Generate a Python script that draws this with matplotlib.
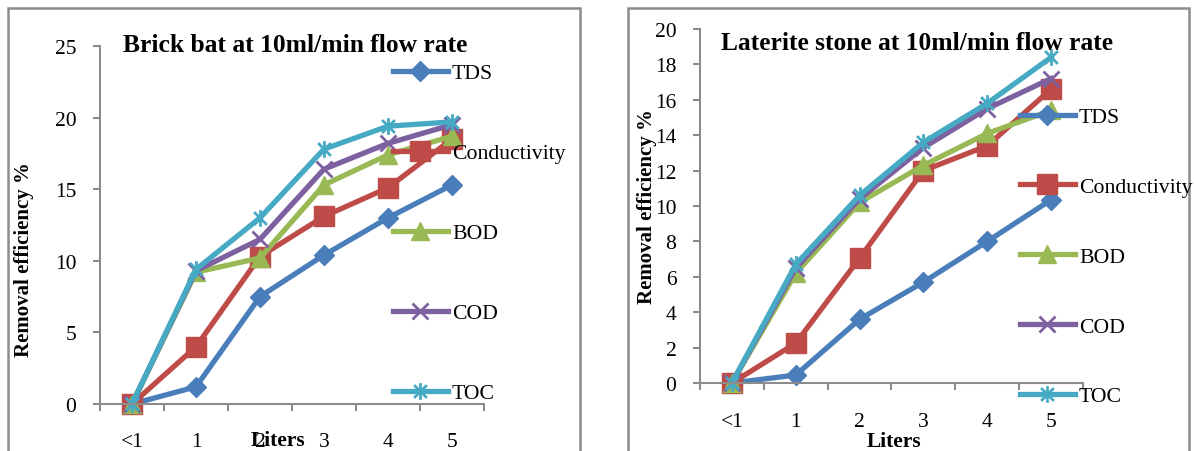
# Removal efficiency of brick bat and laterite stone filters (10 ml/min)
import matplotlib.pyplot as plt
from matplotlib.patches import Rectangle
from matplotlib.path import Path

plt.rcParams['font.family'] = ['Liberation Serif', 'DejaVu Serif']

categories = ['<1', '1', '2', '3', '4', '5']
series_names = ['TDS', 'Conductivity', 'BOD', 'COD', 'TOC']

# Brick bat
brick_tds = [0, 1.2, 7.5, 10.4, 13.0, 15.3]
brick_cond = [0, 4.0, 10.3, 13.1, 15.1, 18.5]
brick_bod = [0, 9.2, 10.2, 15.3, 17.4, 18.7]
brick_cod = [0, 9.3, 11.5, 16.4, 18.2, 19.5]
brick_toc = [0, 9.4, 13.0, 17.8, 19.4, 19.7]

# Laterite stone
lat_tds = [0, 0.45, 3.6, 5.7, 8.0, 10.35]
lat_cond = [0, 2.25, 7.05, 12.0, 13.4, 16.6]
lat_bod = [0, 6.2, 10.2, 12.3, 14.1, 15.4]
lat_cod = [0, 6.5, 10.4, 13.3, 15.5, 17.2]
lat_toc = [0, 6.7, 10.6, 13.6, 15.8, 18.4]

colors = ['#4A7EBB', '#BE4B48', '#98B954', '#7D60A0', '#46AAC5']

# excel style star: x plus vertical bar
star = Path([(-1, -1), (1, 1), (-1, 1), (1, -1), (0, -1.3), (0, 1.3)],
            [Path.MOVETO, Path.LINETO] * 3)
markers = ['D', 's', '^', 'x', star]
msizes = [10.5, 14, 13, 11, 12]

W, H = 1194, 452
fig = plt.figure(figsize=(W / 100, H / 100), dpi=100)

# chart area borders
for x0, x1 in [(8, 580), (628, 1189)]:
    fig.patches.append(Rectangle((x0 / W, -0.05), (x1 - x0) / W, 1 - 9 / H + 0.05,
                                 transform=fig.transFigure, fill=False,
                                 edgecolor='#8C8C8C', lw=1.8))


def draw(rect, data, ymax, ystep, title, title_xy, ylab_xy, xlab_xy, leg_xy, spacing, lab_pad):
    ax = fig.add_axes([rect[0] / W, 1 - rect[3] / H, (rect[2] - rect[0]) / W, (rect[3] - rect[1]) / H])
    x = range(len(categories))
    for vals, c, m, ms, name in zip(data, colors, markers, msizes, series_names):
        thin = (m == 'x') or (m is star)
        ax.plot(x, vals, color=c, lw=3.8, marker=m, ms=ms, mew=2 if thin else 1,
                mec=c, mfc=c, clip_on=False, label=name)
    ax.set_xlim(-0.5, len(categories) - 0.5)
    ax.set_ylim(0, ymax)
    ax.set_yticks(range(0, ymax + 1, ystep))
    ax.set_xticks([i - 0.5 for i in range(len(categories) + 1)])
    ax.set_xticklabels([])
    ax.set_xticks(list(x), minor=True)
    ax.set_xticklabels(categories, minor=True)
    ax.tick_params(axis='x', which='minor', length=0, pad=lab_pad, labelsize=15.5)
    ax.tick_params(axis='x', which='major', length=5, color='#8C8C8C', width=1.5)
    ax.tick_params(axis='y', length=5, color='#8C8C8C', width=1.5, pad=12, labelsize=15.5)
    for s in ['top', 'right']:
        ax.spines[s].set_visible(False)
    for s in ['left', 'bottom']:
        ax.spines[s].set_color('#8C8C8C')
        ax.spines[s].set_linewidth(1.5)
    fig.text(title_xy[0] / W, 1 - title_xy[1] / H, title, fontsize=18.4, fontweight='bold',
             ha='center', va='center')
    fig.text(ylab_xy[0] / W, 1 - ylab_xy[1] / H, 'Removal efficiency %', fontsize=15,
             fontweight='bold', rotation=90, ha='center', va='center')
    fig.text(xlab_xy[0] / W, 1 - xlab_xy[1] / H, 'Liters', fontsize=15.5, fontweight='bold',
             ha='center', va='center')
    handles, labels = ax.get_legend_handles_labels()
    fig.legend(handles, labels, loc='upper left', bbox_to_anchor=(leg_xy[0] / W, 1 - leg_xy[1] / H),
               frameon=False, fontsize=15.7, handlelength=2.5, handletextpad=0.2,
               labelspacing=spacing, borderpad=0, borderaxespad=0, numpoints=1)
    return ax


draw((100, 47, 484, 405), [brick_tds, brick_cond, brick_bod, brick_cod, brick_toc], 25, 5,
     'Brick bat at 10ml/min flow rate', (295, 45), (24, 260), (278, 441), (393, 64), 2.74, 20)
draw((700, 30, 1083, 384), [lat_tds, lat_cond, lat_bod, lat_cod, lat_toc], 20, 2,
     'Laterite stone at 10ml/min flow rate', (917, 43), (647, 207), (894, 442), (1020, 108), 2.27, 21)

fig.savefig('out.png', dpi=100)
